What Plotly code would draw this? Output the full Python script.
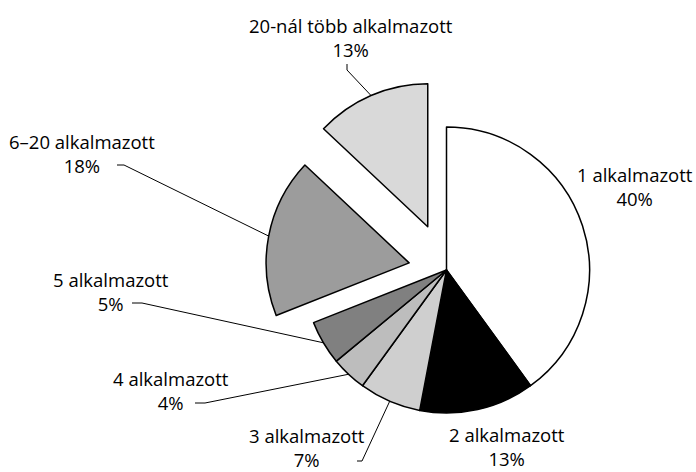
import math
import plotly.graph_objects as go

# ---- data ----
labels = ["1 alkalmazott", "2 alkalmazott", "3 alkalmazott", "4 alkalmazott",
          "5 alkalmazott", "6–20 alkalmazott", "20-nál több alkalmazott"]
values = [40, 13, 7, 4, 5, 18, 13]
pulls = [0, 0, 0, 0, 0, 0.266, 0.33]
colors = ["#ffffff", "#000000", "#cfcfcf", "#bdbdbd", "#808080", "#9c9c9c", "#d9d9d9"]

W, H = 696, 472

# pie centre / radius wanted on the page (px)
PCX, PCY, PR = 446.5, 270.0, 143.0
box = 2 * PR * (1 + max(pulls))
dom_x = [(PCX - box / 2) / W, (PCX + box / 2) / W]
dom_y = [1 - (PCY + box / 2) / H, 1 - (PCY - box / 2) / H]

fig = go.Figure(go.Pie(
    labels=labels, values=values, sort=False, direction="clockwise", rotation=0,
    pull=pulls, textinfo="none", hoverinfo="label+percent",
    marker=dict(colors=colors, line=dict(color="#000000", width=1.5)),
    domain=dict(x=dom_x, y=dom_y), showlegend=False,
))

# pie geometry (same formula plotly uses to lay out the pie)
boxw = W * (dom_x[1] - dom_x[0])
boxh = H * (dom_y[1] - dom_y[0])
r = min(boxw, boxh) / 2 / (1 + max(pulls))
cx = W * (dom_x[0] + dom_x[1]) / 2
cy = H * (1 - dom_y[0]) - boxh / 2
total = sum(values)

def anchor(i):
    start = sum(values[:i]) / total * 360
    mid = math.radians(start + values[i] / total * 360 / 2)
    dx, dy = math.sin(mid), -math.cos(mid)
    ox, oy = cx + pulls[i] * r * dx, cy + pulls[i] * r * dy
    return ox + r * dx, oy + r * dy

def paper(x, y):
    return x / W, 1 - y / H

# label block centres and leader elbows, in px
label_pos = [(635, 187), (507, 446), (307, 447), (171, 390), (111, 291), (82, 153), (351, 37)]
elbows = [None, None,
          [(357, 461), (362, 461)],
          [(195, 403), (205, 403)],
          [(132, 303), (142, 303)],
          [(117, 165), (124, 165)],
          [(347, 64), (347, 70)]]

font = dict(family="Open Sans, Lato, sans-serif", size=18.5, color="#000000")
for i, lab in enumerate(labels):
    x, y = paper(*label_pos[i])
    fig.add_annotation(x=x, y=y, xref="paper", yref="paper",
                       text=f"{lab}<br>{values[i]}%", showarrow=False,
                       xanchor="center", yanchor="middle", align="center", font=font)
    if elbows[i]:
        pts = list(elbows[i]) + [anchor(i)]
        path = "M " + " L ".join(f"{paper(a, b)[0]},{paper(a, b)[1]}" for a, b in pts)
        fig.add_shape(type="path", path=path, xref="paper", yref="paper",
                      line=dict(color="#000000", width=1))

fig.update_layout(width=W, height=H, margin=dict(l=0, r=0, t=0, b=0),
                  paper_bgcolor="white", plot_bgcolor="white")
fig.write_html("out.html", config={"displayModeBar": False},
               post_script="document.body.style.margin='0px';document.body.style.overflow='hidden';")
